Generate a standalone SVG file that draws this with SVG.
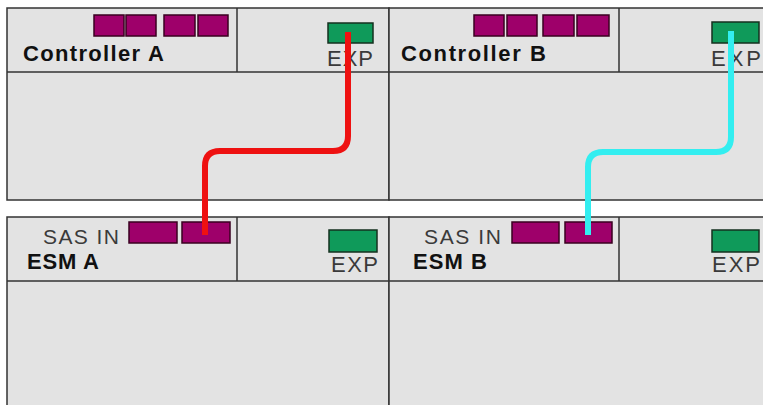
<svg xmlns="http://www.w3.org/2000/svg" width="763" height="405" viewBox="0 0 763 405">
<style>
.box{fill:#e3e3e3;stroke:#333;stroke-width:1.5}
.ln{stroke:#333;stroke-width:1.5;fill:none}
.port{fill:#9e006a;stroke:#3a0020;stroke-width:1.5}
.exp{fill:#0f9a5a;stroke:#15301f;stroke-width:1.5}
.title{font-family:"Liberation Sans",Arial,sans-serif;font-weight:bold;font-size:22px;fill:#111}
.lbl{font-family:"Liberation Sans",Arial,sans-serif;font-size:22px;fill:#3a3a3a}
.sas{font-size:21px}
.cable{fill:none;stroke-width:6;stroke-linecap:butt}
</style>
<rect width="763" height="405" fill="#fff"/>
<g id="controller-a">
<rect class="box" x="7" y="8" width="382" height="192"/>
<line class="ln" x1="7" y1="72" x2="389" y2="72"/>
<line class="ln" x1="237" y1="8" x2="237" y2="72"/>
<rect class="port" x="94" y="15" width="30" height="21"/>
<rect class="port" x="126" y="15" width="30" height="21"/>
<rect class="port" x="164" y="15" width="31" height="21"/>
<rect class="port" x="198" y="15" width="30" height="21"/>
<text class="title" x="23" y="61" textLength="141" lengthAdjust="spacing">Controller A</text>
<rect class="exp" x="328" y="23" width="45" height="20"/>
<text class="lbl" x="327" y="66" textLength="46" lengthAdjust="spacing">EXP</text>
</g>
<g id="controller-b">
<rect class="box" x="389" y="8" width="385" height="192"/>
<line class="ln" x1="389" y1="72" x2="774" y2="72"/>
<line class="ln" x1="619" y1="8" x2="619" y2="72"/>
<rect class="port" x="474" y="15" width="30" height="21"/>
<rect class="port" x="507" y="15" width="30" height="21"/>
<rect class="port" x="543" y="15" width="31" height="21"/>
<rect class="port" x="577" y="15" width="32" height="21"/>
<text class="title" x="401" y="61" textLength="145" lengthAdjust="spacing">Controller B</text>
<rect class="exp" x="712" y="22" width="47" height="21"/>
<text class="lbl" x="711" y="66" textLength="50" lengthAdjust="spacing">EXP</text>
</g>
<g id="esm-a">
<rect class="box" x="7" y="217" width="382" height="200"/>
<line class="ln" x1="7" y1="281" x2="389" y2="281"/>
<line class="ln" x1="237" y1="217" x2="237" y2="281"/>
<text class="lbl sas" x="43" y="244" textLength="76" lengthAdjust="spacing">SAS IN</text>
<rect class="port" x="129" y="222" width="48" height="21"/>
<rect class="port" x="182" y="222" width="48" height="21"/>
<text class="title" x="27" y="269" textLength="72" lengthAdjust="spacing">ESM A</text>
<rect class="exp" x="329" y="230" width="48" height="22"/>
<text class="lbl" x="331" y="272" textLength="47" lengthAdjust="spacing">EXP</text>
</g>
<g id="esm-b">
<rect class="box" x="389" y="217" width="385" height="200"/>
<line class="ln" x1="389" y1="281" x2="774" y2="281"/>
<line class="ln" x1="619" y1="217" x2="619" y2="281"/>
<text class="lbl sas" x="424" y="244" textLength="77" lengthAdjust="spacing">SAS IN</text>
<rect class="port" x="512" y="222" width="47" height="21"/>
<rect class="port" x="565" y="222" width="47" height="21"/>
<text class="title" x="413" y="269" textLength="74" lengthAdjust="spacing">ESM B</text>
<rect class="exp" x="712" y="230" width="47" height="22"/>
<text class="lbl" x="712" y="272" textLength="48" lengthAdjust="spacing">EXP</text>
</g>
<g id="connectors">
<path class="cable" stroke="#ee1111" d="M348,32 V136 Q348,151 333,151 H220 Q205,151 205,166 V235"/>
<path class="cable" stroke="#33eef0" d="M731,31 V137 Q731,152 716,152 H603 Q588,152 588,167 V235"/>
</g>
</svg>
